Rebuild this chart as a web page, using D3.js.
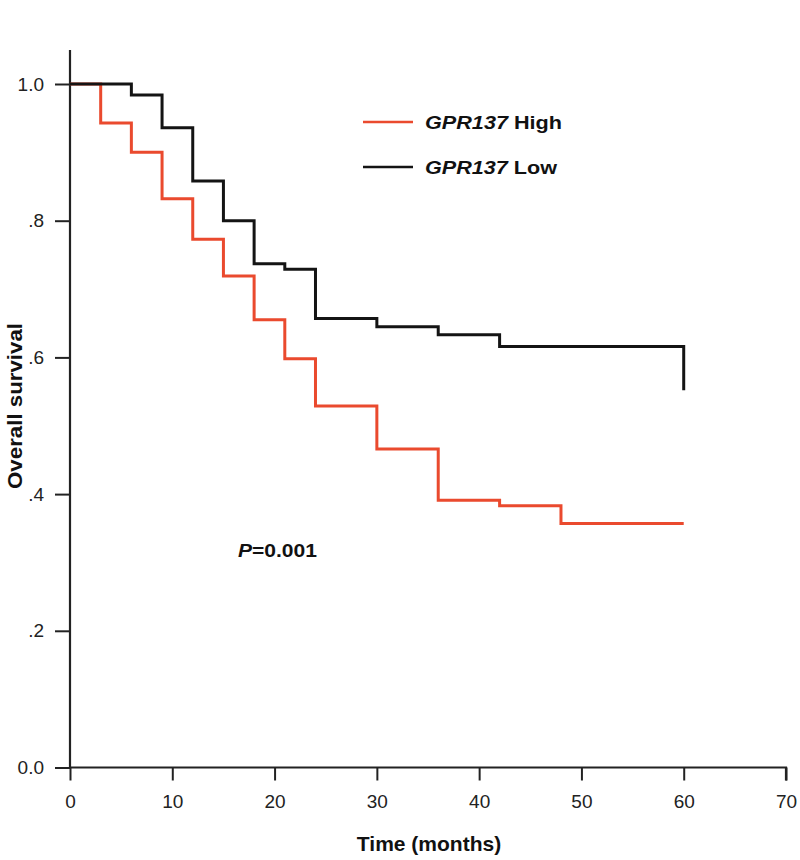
<!DOCTYPE html>
<html>
<head>
<meta charset="utf-8">
<script src="https://cdn.jsdelivr.net/npm/d3@7"></script>
<style>
  html, body { margin: 0; padding: 0; background: #fff; }
  svg { display: block; }
</style>
</head>
<body>
<svg id="chart" width="800" height="860"></svg>
<script>
// ---- Data ----
const highTimes    = [0, 3, 6, 9, 12, 15, 18, 21, 24, 30, 36, 42, 48, 60];
const highSurvival = [1.0, 0.943, 0.900, 0.832, 0.773, 0.719, 0.655, 0.598, 0.529, 0.466, 0.391, 0.383, 0.357, 0.357];

const lowTimes     = [0, 6, 9, 12, 15, 18, 21, 24, 30, 36, 42, 60];
const lowSurvival  = [1.0, 0.984, 0.936, 0.858, 0.800, 0.737, 0.729, 0.657, 0.645, 0.633, 0.616, 0.552];

const xTicks = [0, 10, 20, 30, 40, 50, 60, 70];
const yTicks = [0, 0.2, 0.4, 0.6, 0.8, 1.0];
const yTickLabels = ["0.0", ".2", ".4", ".6", ".8", "1.0"];
const seriesNames = ["High", "Low"];
const geneName = "GPR137";
const pValueText = "=0.001";

// ---- Layout ----
const svg = d3.select("#chart");
const x = d3.scaleLinear().domain([0, 70]).range([70, 786]);
const y = d3.scaleLinear().domain([0, 1]).range([767.5, 84]);

const RED = "#ea4a2e";
const BLACK = "#141414";
const AXIS = "#222";

// Axes
const xAxis = d3.axisBottom(x).tickValues(xTicks).tickSize(13).tickPadding(14);
const gx = svg.append("g").attr("transform", `translate(0,${y(0)})`).call(xAxis);
gx.select(".domain").attr("stroke", AXIS).attr("stroke-width", 2.2).attr("d", `M${x(0)},0H${x(70)}V13`);
gx.selectAll(".tick line").attr("stroke", AXIS).attr("stroke-width", 2);
gx.selectAll(".tick text")
  .attr("font-family", "Liberation Sans, Arial, sans-serif")
  .attr("font-size", 19).attr("fill", "#222");

const yAxis = d3.axisLeft(y).tickValues(yTicks).tickSize(15).tickPadding(11)
  .tickFormat((d, i) => yTickLabels[i]);
const gy = svg.append("g").attr("transform", `translate(${x(0)},0)`).call(yAxis);
gy.select(".domain").attr("stroke", AXIS).attr("stroke-width", 2.2)
  .attr("d", `M0,50V${y(0)}`);
gy.selectAll(".tick line").attr("stroke", AXIS).attr("stroke-width", 2);
gy.selectAll(".tick text")
  .attr("font-family", "Liberation Sans, Arial, sans-serif")
  .attr("font-size", 19).attr("fill", "#222");

// Step curves
function stepPoints(times, surv, dropAtEnd) {
  const pts = [];
  for (let i = 0; i < times.length; i++) {
    if (i > 0) pts.push([times[i], surv[i - 1]]);
    pts.push([times[i], surv[i]]);
  }
  return pts;
}
const line = d3.line().x(d => x(d[0])).y(d => y(d[1]));

svg.append("path")
  .datum(stepPoints(highTimes, highSurvival))
  .attr("d", line).attr("fill", "none")
  .attr("stroke", RED).attr("stroke-width", 3).attr("stroke-linejoin", "miter");

svg.append("path")
  .datum(stepPoints(lowTimes, lowSurvival))
  .attr("d", line).attr("fill", "none")
  .attr("stroke", BLACK).attr("stroke-width", 3).attr("stroke-linejoin", "miter");

// Legend
const legend = svg.append("g");
const legendColors = [RED, BLACK];
seriesNames.forEach((name, i) => {
  const ly = 122 + i * 45;
  legend.append("line")
    .attr("x1", 363).attr("x2", 413).attr("y1", ly).attr("y2", ly)
    .attr("stroke", legendColors[i]).attr("stroke-width", 2.5);
  const t = legend.append("text")
    .attr("x", 425).attr("y", ly + 6.5)
    .attr("font-family", "Liberation Sans, Arial, sans-serif")
    .attr("font-size", 18.5).attr("font-weight", "bold").attr("fill", "#111")
    .attr("textLength", i === 0 ? 137 : 132).attr("lengthAdjust", "spacingAndGlyphs");
  t.append("tspan").attr("font-style", "italic").text(geneName);
  t.append("tspan").text(" " + name);
});

// P value
const pt = svg.append("text")
  .attr("x", 238).attr("y", 557)
  .attr("font-family", "Liberation Sans, Arial, sans-serif")
  .attr("font-size", 18.5).attr("font-weight", "bold").attr("fill", "#111")
  .attr("textLength", 79).attr("lengthAdjust", "spacingAndGlyphs");
pt.append("tspan").attr("font-style", "italic").text("P");
pt.append("tspan").text(pValueText);

// Axis titles
svg.append("text")
  .attr("x", (x(0) + x(70)) / 2 + 1).attr("y", 851)
  .attr("text-anchor", "middle")
  .attr("font-family", "Liberation Sans, Arial, sans-serif")
  .attr("font-size", 21).attr("font-weight", "bold").attr("fill", "#111")
  .text("Time (months)");

svg.append("text")
  .attr("transform", "translate(22,406) rotate(-90)")
  .attr("text-anchor", "middle")
  .attr("font-family", "Liberation Sans, Arial, sans-serif")
  .attr("font-size", 21).attr("font-weight", "bold").attr("fill", "#111")
  .attr("textLength", 166).attr("lengthAdjust", "spacingAndGlyphs")
  .text("Overall survival");
</script>
</body>
</html>
